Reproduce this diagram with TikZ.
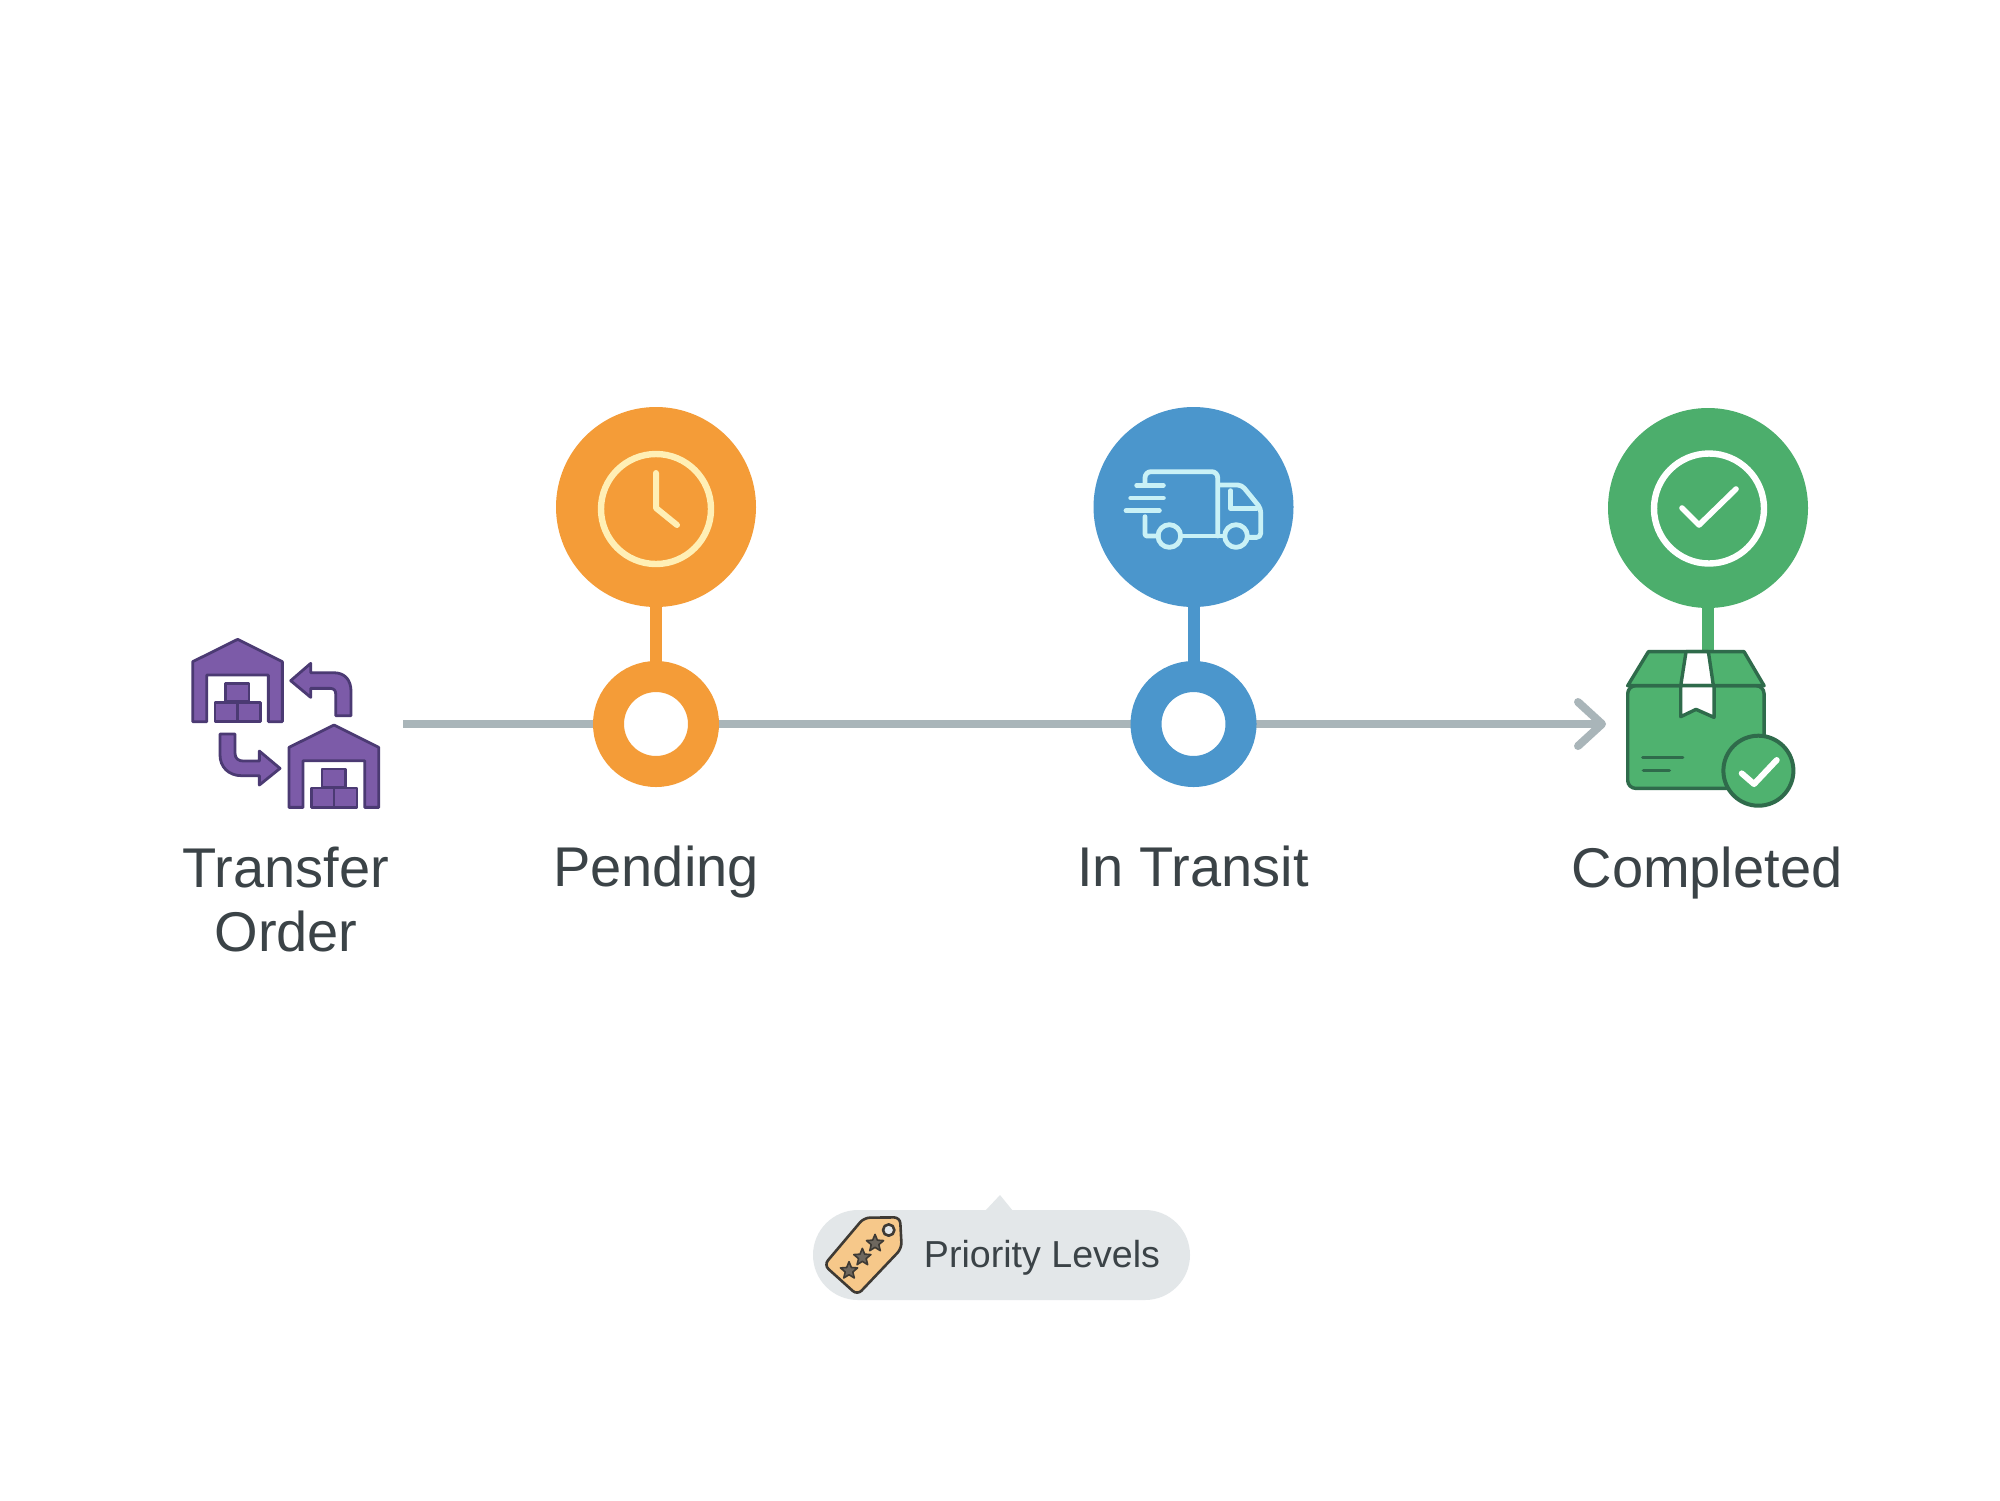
\documentclass[tikz,border=0pt]{standalone}
\usepackage{fontspec}
\setmainfont{Liberation Sans}
\usetikzlibrary{arrows.meta}
\pgfdeclarelayer{bg}
\pgfsetlayers{bg,main}
\definecolor{orangeC}{HTML}{F49C38}
\definecolor{blueC}{HTML}{4B96CC}
\definecolor{greenC}{HTML}{4CAE6C}
\definecolor{greenD}{HTML}{2F6B4B}
\definecolor{greenF}{HTML}{4FB26F}
\definecolor{purpleC}{HTML}{7C5BA8}
\definecolor{purpleD}{HTML}{4B3A73}
\definecolor{textC}{HTML}{3B4347}
\definecolor{lineC}{HTML}{A9B5B9}
\definecolor{pillC}{HTML}{E3E7E9}
\definecolor{tagC}{HTML}{F6C88A}
\definecolor{tagD}{HTML}{3E3A34}
\definecolor{starC}{HTML}{6E675E}
\definecolor{truckC}{HTML}{C9F1F6}
\definecolor{clockC}{HTML}{FFEFB5}
\tikzset{
  x=0.5pt,y=-0.5pt,
  bigdisc/.style={circle,draw=none,minimum size=100pt,inner sep=0pt},
  ringnode/.style={circle,draw=#1,fill=white,line width=15.5pt,minimum size=47.5pt,inner sep=0pt},
  stem/.style={line width=6pt},
  track/.style={draw=lineC,line width=4pt},
  label/.style={font=\fontsize{28}{32}\selectfont,text=textC,anchor=base,inner sep=0pt},
  wh/.style={fill=purpleC,draw=purpleD,line width=1.4pt,line join=round},
  icon/.style={line width=2.4pt,line cap=round,line join=round},
  tagline/.style={draw=tagD,line width=1.3pt,line join=round},
  parcel/.style={draw=greenD,line width=1.7pt,line join=round},
}
\newcommand{\warehouse}{%
  \draw[wh] (68,305)--(68,125)--(203,58)--(337,125)--(337,305)--(295,305)--(295,165)--(110,165)--(110,305)--cycle;
  \draw[wh] (167,190) rectangle (237,245);
  \draw[wh] (135,247) rectangle (203,305);
  \draw[wh] (203,247) rectangle (272,305);
}
\newcommand{\tagstar}[2]{%
  \fill[starC,draw=tagD,line width=.8pt,line join=round] (#1,#2)
    +(90:-27) -- +(126:-12) -- +(162:-27) -- +(198:-12) -- +(234:-27) -- +(270:-12) -- +(306:-27) -- +(342:-12) -- +(18:-27) -- +(54:-12) -- cycle;
}
\begin{document}
\begin{tikzpicture}
\useasboundingbox (0,0) rectangle (2000,1500);
\begin{pgfonlayer}{bg}
\fill[white] (0,0) rectangle (2000,1500);
\end{pgfonlayer}

% free ends of the track
\coordinate (trackstart) at (403,724);
\coordinate (tracktip) at (1606,724);
\coordinate (boxtop) at (1708,652);

% main nodes
\node[bigdisc,fill=orangeC] (pendingdisc) at (656,507) {};
\node[bigdisc,fill=blueC] (transitdisc) at (1193.5,507) {};
\node[bigdisc,fill=greenC] (donedisc) at (1708,508) {};
\node[ringnode=orangeC] (pendingring) at (656,724) {};
\node[ringnode=blueC] (transitring) at (1193.5,724) {};

% connectors
\begin{pgfonlayer}{bg}
\draw[track] (trackstart) -- (pendingring.center);
\draw[track] (pendingring.center) -- (transitring.center);
\draw[track,-{Straight Barb[round,length=12pt,width=22pt,line width=4pt]}] (transitring.center) -- (tracktip);
\draw[stem,orangeC] (pendingdisc.center) -- (pendingring.center);
\draw[stem,blueC] (transitdisc.center) -- (transitring.center);
\draw[stem,greenC] (donedisc.center) -- (boxtop);
\end{pgfonlayer}

% clock
\draw[clockC,line width=3.2pt] (656,509) circle[radius=55];
\draw[clockC,icon,line width=3pt] (656,473) -- (656,508) -- (677,525);

% check
\draw[white,line width=3.2pt] (1709,508.5) circle[radius=55];
\draw[white,icon,line width=2.8pt] (1682,508) -- (1699,525) -- (1736,489);

% truck
\begin{scope}[shift={(1100,450)},x=0.1667pt,y=-0.1667pt]
  \draw[truckC,icon,rounded corners=3pt] (135,100) -- (135,65) -- (353,65) -- (353,258);
  \draw[truckC,icon,rounded corners=1pt] (135,200) -- (135,258) -- (175,258);
  \draw[truckC,icon] (243,258) -- (373,258);
  \draw[truckC,icon,rounded corners=2pt] (355,105) -- (425,105) -- (482,175) -- (482,262) -- (442,262);
  \draw[truckC,icon] (392,122) -- (392,175) -- (470,175);
  \draw[truckC,icon] (208,258) circle[radius=34];
  \draw[truckC,icon] (408,258) circle[radius=34];
  \draw[truckC,icon] (110,106) -- (190,106);
  \draw[truckC,icon] (92,144) -- (190,144);
  \draw[truckC,icon] (78,182) -- (178,182);
\end{scope}

% warehouses
\begin{scope}[shift={(170,620)},x=0.1667pt,y=-0.1667pt]
  \warehouse
  \begin{scope}[shift={(289,257)}]
    \warehouse
  \end{scope}
  \draw[wh] (543,287) -- (543,215) .. controls (543,180) and (525,158) .. (490,158) -- (422,158) -- (422,130) -- (362,182) -- (422,232) -- (422,205) -- (480,205) .. controls (492,205) and (497,212) .. (497,222) -- (497,287) -- cycle;
  \draw[wh] (150,342) -- (195,342) -- (195,400) .. controls (195,415) and (205,423) .. (220,423) -- (268,423) -- (268,393) -- (330,445) -- (268,495) -- (268,467) -- (215,467) .. controls (175,467) and (150,440) .. (150,405) -- cycle;
\end{scope}

% parcel
\begin{scope}[shift={(1560,620)},x=0.1667pt,y=-0.1667pt]
  \draw[fill=greenF,parcel,rounded corners=4pt] (203,197) -- (203,505) -- (612,505) -- (612,197) -- cycle;
  \draw[fill=greenF,parcel] (203,197) -- (265,95) -- (552,95) -- (612,197) -- cycle;
  \draw[fill=white,parcel] (378,95) -- (445,95) -- (460,197) -- (362,197) -- cycle;
  \draw[fill=white,parcel] (362,197) -- (362,290) -- (408,268) -- (462,292) -- (462,197) -- cycle;
  \draw[greenD,line width=1.7pt,line cap=round] (248,413) -- (368,413);
  \draw[greenD,line width=1.7pt,line cap=round] (250,451) -- (328,451);
  \draw[fill=greenF,draw=greenD,line width=2pt] (595,452) circle[radius=105];
  \draw[white,line width=3pt,line cap=round,line join=round] (545,460) -- (582,492) -- (650,420);
\end{scope}

% labels
\node[label] (lbltransfer) at (286,887) {Transfer};
\node[label] (lblorder) at (286,951) {Order};
\node[label] (lblpending) at (656,886) {Pending};
\node[label] (lbltransit) at (1193,886) {In Transit};
\node[label] (lblcompleted) at (1707,887) {Completed};

% priority pill
\fill[pillC] (985,1211) -- (1000,1195) -- (1013,1211) -- cycle;
\fill[pillC,rounded corners=22.5pt] (813,1210) rectangle (1190,1300);
\begin{scope}[shift={(800,1180)},x=0.1667pt,y=-0.1667pt]
  \draw[fill=tagC,tagline,rounded corners=3pt] (72,255) -- (192,113) -- (300,112) -- (305,205) -- (172,345) -- cycle;
  \draw[fill=pillC,tagline] (266,150) circle[radius=17];
  \tagstar{147}{272}
  \tagstar{187}{232}
  \tagstar{225}{190}
\end{scope}
\node[font=\fontsize{18.8}{22}\selectfont,text=textC,anchor=base,inner sep=0pt] (lblpriority) at (1042,1267) {Priority Levels};
\end{tikzpicture}
\end{document}
